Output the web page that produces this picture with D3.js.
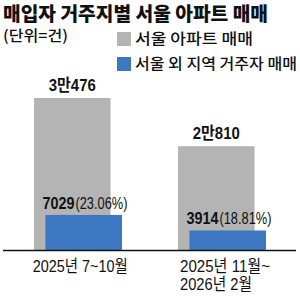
<!DOCTYPE html>
<html>
<head>
<meta charset="utf-8">
<script src="https://cdn.jsdelivr.net/npm/d3@7"></script>
<style>
  body { margin: 0; background: #fff; }
  text { font-family: "Noto Sans CJK KR", "Noto Sans", sans-serif; fill: #111; }
  text.num { font-family: "Liberation Sans", "Noto Sans CJK KR", sans-serif; }
</style>
</head>
<body>
<div id="chart"></div>
<script>
// data
var categories = ["2025년 7~10월", "2025년 11월~\n2026년 2월"];
var seoulTotal = [30476, 20810];
var otherRegion = [7029, 3914];
var totalLabels = ["3만476", "2만810"];
var otherShare = ["(23.06%)", "(18.81%)"];
var seriesNames = ["서울 아파트 매매", "서울 외 지역 거주자 매매"];
var colors = ["#b4b4b4", "#3d77c1"];

var width = 300, height = 296;
var svg = d3.select("#chart").append("svg")
    .attr("width", width)
    .attr("height", height);

// squeeze a text horizontally to a target width (condensed look)
function squeeze(sel, px, py, target) {
  sel.each(function(d, i) {
    var w = this.getComputedTextLength();
    var sx = target / w;
    d3.select(this).attr("transform",
      "translate(" + px(d, i) + "," + py(d, i) + ") scale(" + sx + ",1)");
  });
}

// title + unit
svg.append("text")
    .attr("x", 3).attr("y", 21)
    .attr("textLength", 265).attr("lengthAdjust", "spacingAndGlyphs")
    .style("font-size", "19px").style("font-weight", "900")
    .text("매입자 거주지별 서울 아파트 매매");
svg.append("text")
    .attr("x", 3).attr("y", 41)
    .attr("textLength", 65).attr("lengthAdjust", "spacingAndGlyphs")
    .style("font-size", "15px").style("font-weight", "500")
    .text("(단위=건)");

// legend
var legendW = [118, 162];
var legend = svg.selectAll(".legend")
  .data(seriesNames)
  .enter().append("g")
    .attr("transform", function(d, i) { return "translate(117," + (32 + i * 25) + ")"; });
legend.append("rect")
    .attr("width", 14).attr("height", 14)
    .attr("fill", function(d, i) { return colors[i]; });
legend.append("text")
    .attr("x", 18).attr("y", 12)
    .attr("textLength", function(d, i) { return legendW[i]; })
    .attr("lengthAdjust", "spacingAndGlyphs")
    .style("font-size", "15px").style("font-weight", "500")
    .text(function(d) { return d; });

// scales
var x = d3.scaleBand()
    .domain(categories)
    .range([34, 266])
    .paddingInner(0.389)
    .paddingOuter(0);
var barW = x.bandwidth() * 0.87;
var shift = x.bandwidth() - barW;

var y = d3.scaleLinear()
    .domain([0, d3.max(seoulTotal)])
    .range([250, 98]);

// gray bars
svg.selectAll(".gray")
  .data(seoulTotal)
  .enter().append("rect")
    .attr("x", function(d, i) { return x(categories[i]); })
    .attr("y", function(d) { return y(d); })
    .attr("width", barW)
    .attr("height", function(d) { return y(0) - y(d); })
    .attr("fill", colors[0]);

// blue bars
svg.selectAll(".blue")
  .data(otherRegion)
  .enter().append("rect")
    .attr("x", function(d, i) { return x(categories[i]) + shift; })
    .attr("y", function(d) { return y(d); })
    .attr("width", barW)
    .attr("height", function(d) { return y(0) - y(d); })
    .attr("fill", colors[1]);

// value labels
svg.selectAll(".tlab")
  .data(seoulTotal)
  .enter().append("text")
    .attr("class", "num")
    .attr("x", function(d, i) { return x(categories[i]) + barW / 2; })
    .attr("y", function(d) { return y(d) - 7; })
    .attr("text-anchor", "middle")
    .attr("textLength", 47).attr("lengthAdjust", "spacingAndGlyphs")
    .style("font-size", "17px").style("font-weight", "bold")
    .text(function(d, i) { return totalLabels[i]; });

var onum = svg.selectAll(".onum")
  .data(otherRegion)
  .enter().append("text")
    .attr("class", "num")
    .style("font-size", "17px").style("font-weight", "bold")
    .text(function(d) { return d; });
squeeze(onum,
  function(d, i) { return x(categories[i]) + shift - 3; },
  function(d) { return y(d) - 6; }, 32);

var oshare = svg.selectAll(".oshare")
  .data(otherRegion)
  .enter().append("text")
    .attr("class", "num")
    .style("font-size", "17px")
    .text(function(d, i) { return otherShare[i]; });
squeeze(oshare,
  function(d, i) { return x(categories[i]) + shift + 30; },
  function(d) { return y(d) - 6; }, 52);

// baseline
svg.append("line")
    .attr("x1", 3).attr("x2", 296)
    .attr("y1", y(0) + 0.5).attr("y2", y(0) + 0.5)
    .attr("stroke", "#111").attr("stroke-width", 1.5);

// category labels
var catW = [[95], [90, 72]];
categories.forEach(function(c, i) {
  var lines = c.split("\n");
  lines.forEach(function(l, j) {
    svg.append("text")
      .attr("class", "num")
      .attr("x", i == 0 ? x(c) + barW / 2 + 8 - catW[i][j] / 2 : x(c) + 2)
      .attr("y", 272 + j * 18)
      .attr("textLength", catW[i][j]).attr("lengthAdjust", "spacingAndGlyphs")
      .style("font-size", "17px")
      .text(l);
  });
});
</script>
</body>
</html>
